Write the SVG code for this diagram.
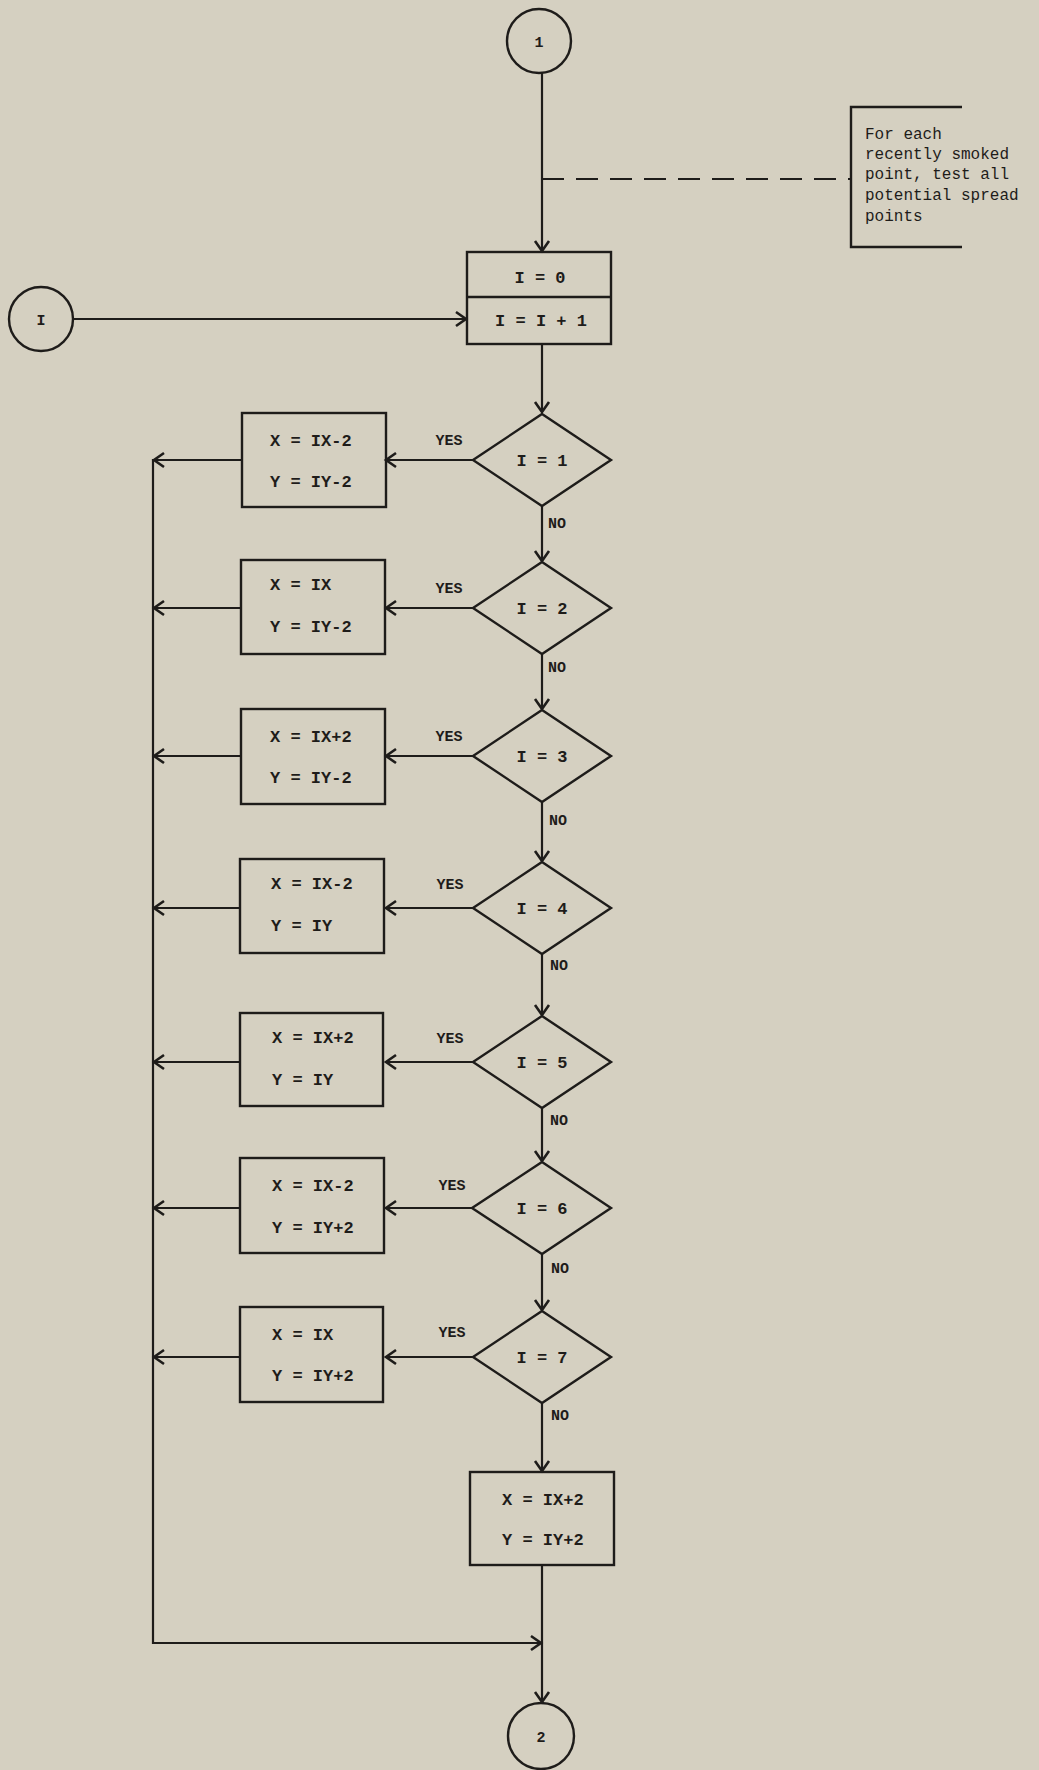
<svg xmlns="http://www.w3.org/2000/svg" width="1039" height="1770" viewBox="0 0 1039 1770">
<style>
.bg{fill:#d5d0c1}
.sh{fill:none;stroke:#1e1c1a;stroke-width:2.4}
.ln{fill:none;stroke:#1e1c1a;stroke-width:2.2}
.t{font-family:"Liberation Mono","Courier New",monospace;font-weight:bold;font-size:17px;fill:#1e1c1a}
.c{text-anchor:middle}
.lb{font-family:"Liberation Mono","Courier New",monospace;font-weight:bold;font-size:15px;fill:#1e1c1a}
.nt{font-family:"Liberation Mono","Courier New",monospace;font-size:16px;fill:#1e1c1a}
</style>
<defs>
<marker id="ah" markerUnits="userSpaceOnUse" markerWidth="14" markerHeight="16" refX="11" refY="7" orient="auto" overflow="visible">
<path d="M1,0 L11,7 L1,14" fill="none" stroke="#1e1c1a" stroke-width="2.6"/>
</marker>
</defs>
<rect class="bg" x="0" y="0" width="1039" height="1770"/>

<g id="connectors">
<line class="ln" x1="542" y1="73" x2="542" y2="251" marker-end="url(#ah)"/>
<line class="ln" x1="542" y1="179" x2="851" y2="179" stroke-dasharray="22,12"/>
<line class="ln" x1="73" y1="319" x2="466" y2="319" marker-end="url(#ah)"/>
<line class="ln" x1="542" y1="345" x2="542" y2="412" marker-end="url(#ah)"/>
<line class="ln" x1="542" y1="506" x2="542" y2="561" marker-end="url(#ah)"/>
<line class="ln" x1="542" y1="654" x2="542" y2="709" marker-end="url(#ah)"/>
<line class="ln" x1="542" y1="802" x2="542" y2="861" marker-end="url(#ah)"/>
<line class="ln" x1="542" y1="954" x2="542" y2="1015" marker-end="url(#ah)"/>
<line class="ln" x1="542" y1="1108" x2="542" y2="1161" marker-end="url(#ah)"/>
<line class="ln" x1="542" y1="1254" x2="542" y2="1310" marker-end="url(#ah)"/>
<line class="ln" x1="542" y1="1403" x2="542" y2="1471" marker-end="url(#ah)"/>
<line class="ln" x1="542" y1="1565" x2="542" y2="1702" marker-end="url(#ah)"/>
<line class="ln" x1="473" y1="460" x2="386" y2="460" marker-end="url(#ah)"/>
<line class="ln" x1="473" y1="608" x2="386" y2="608" marker-end="url(#ah)"/>
<line class="ln" x1="473" y1="756" x2="386" y2="756" marker-end="url(#ah)"/>
<line class="ln" x1="473" y1="908" x2="386" y2="908" marker-end="url(#ah)"/>
<line class="ln" x1="473" y1="1062" x2="386" y2="1062" marker-end="url(#ah)"/>
<line class="ln" x1="473" y1="1208" x2="386" y2="1208" marker-end="url(#ah)"/>
<line class="ln" x1="473" y1="1357" x2="386" y2="1357" marker-end="url(#ah)"/>
<line class="ln" x1="241" y1="460" x2="154" y2="460" marker-end="url(#ah)"/>
<line class="ln" x1="241" y1="608" x2="154" y2="608" marker-end="url(#ah)"/>
<line class="ln" x1="241" y1="756" x2="154" y2="756" marker-end="url(#ah)"/>
<line class="ln" x1="241" y1="908" x2="154" y2="908" marker-end="url(#ah)"/>
<line class="ln" x1="241" y1="1062" x2="154" y2="1062" marker-end="url(#ah)"/>
<line class="ln" x1="241" y1="1208" x2="154" y2="1208" marker-end="url(#ah)"/>
<line class="ln" x1="241" y1="1357" x2="154" y2="1357" marker-end="url(#ah)"/>
<polyline class="ln" points="153,459 153,1643 541,1643" marker-end="url(#ah)"/>
<text class="lb c" x="449" y="445">YES</text>
<text class="lb c" x="449" y="593">YES</text>
<text class="lb c" x="449" y="741">YES</text>
<text class="lb c" x="450" y="889">YES</text>
<text class="lb c" x="450" y="1043">YES</text>
<text class="lb c" x="452" y="1190">YES</text>
<text class="lb c" x="452" y="1337">YES</text>
<text class="lb" x="548" y="528">NO</text>
<text class="lb" x="548" y="672">NO</text>
<text class="lb" x="549" y="825">NO</text>
<text class="lb" x="550" y="970">NO</text>
<text class="lb" x="550" y="1125">NO</text>
<text class="lb" x="551" y="1273">NO</text>
<text class="lb" x="551" y="1420">NO</text>
</g>

<g id="start1">
<circle class="sh" cx="539" cy="41" r="32"/>
<text class="t c" x="539" y="47" style="font-size:15px">1</text>
</g>

<g id="note">
<polyline class="sh" points="962,107 851,107 851,247 962,247"/>
<text class="nt" x="865" y="139">For each</text>
<text class="nt" x="865" y="159">recently smoked</text>
<text class="nt" x="865" y="179">point, test all</text>
<text class="nt" x="865" y="200">potential spread</text>
<text class="nt" x="865" y="221">points</text>
</g>

<g id="entryI">
<circle class="sh" cx="41" cy="319" r="32"/>
<text class="t c" x="41" y="325" style="font-size:15px">I</text>
</g>

<g id="init">
<rect class="sh" x="467" y="252" width="144" height="92"/>
<line class="sh" x1="467" y1="297" x2="611" y2="297"/>
<text class="t c" x="540" y="283">I = 0</text>
<text class="t c" x="541" y="326">I = I + 1</text>
</g>

<g id="d1"><polygon class="sh" points="542,414 611,460 542,506 473,460"/><text class="t c" x="542" y="466">I = 1</text></g>
<g id="d2"><polygon class="sh" points="542,562 611,608 542,654 473,608"/><text class="t c" x="542" y="614">I = 2</text></g>
<g id="d3"><polygon class="sh" points="542,710 611,756 542,802 473,756"/><text class="t c" x="542" y="762">I = 3</text></g>
<g id="d4"><polygon class="sh" points="542,862 611,908 542,954 473,908"/><text class="t c" x="542" y="914">I = 4</text></g>
<g id="d5"><polygon class="sh" points="542,1016 611,1062 542,1108 473,1062"/><text class="t c" x="542" y="1068">I = 5</text></g>
<g id="d6"><polygon class="sh" points="542,1162 611,1208 542,1254 472,1208"/><text class="t c" x="542" y="1214">I = 6</text></g>
<g id="d7"><polygon class="sh" points="542,1311 611,1357 542,1403 473,1357"/><text class="t c" x="542" y="1363">I = 7</text></g>

<g id="b1"><rect class="sh" x="242" y="413" width="144" height="94"/><text class="t" x="270" y="446">X = IX-2</text><text class="t" x="270" y="487">Y = IY-2</text></g>
<g id="b2"><rect class="sh" x="241" y="560" width="144" height="94"/><text class="t" x="270" y="590">X = IX</text><text class="t" x="270" y="632">Y = IY-2</text></g>
<g id="b3"><rect class="sh" x="241" y="709" width="144" height="95"/><text class="t" x="270" y="742">X = IX+2</text><text class="t" x="270" y="783">Y = IY-2</text></g>
<g id="b4"><rect class="sh" x="240" y="859" width="144" height="94"/><text class="t" x="271" y="889">X = IX-2</text><text class="t" x="271" y="931">Y = IY</text></g>
<g id="b5"><rect class="sh" x="240" y="1013" width="143" height="93"/><text class="t" x="272" y="1043">X = IX+2</text><text class="t" x="272" y="1085">Y = IY</text></g>
<g id="b6"><rect class="sh" x="240" y="1158" width="144" height="95"/><text class="t" x="272" y="1191">X = IX-2</text><text class="t" x="272" y="1233">Y = IY+2</text></g>
<g id="b7"><rect class="sh" x="240" y="1307" width="143" height="95"/><text class="t" x="272" y="1340">X = IX</text><text class="t" x="272" y="1381">Y = IY+2</text></g>
<g id="b8"><rect class="sh" x="470" y="1472" width="144" height="93"/><text class="t" x="502" y="1505">X = IX+2</text><text class="t" x="502" y="1545">Y = IY+2</text></g>

<g id="end2">
<circle class="sh" cx="541" cy="1736" r="33"/>
<text class="t c" x="541" y="1742" style="font-size:15px">2</text>
</g>
</svg>
